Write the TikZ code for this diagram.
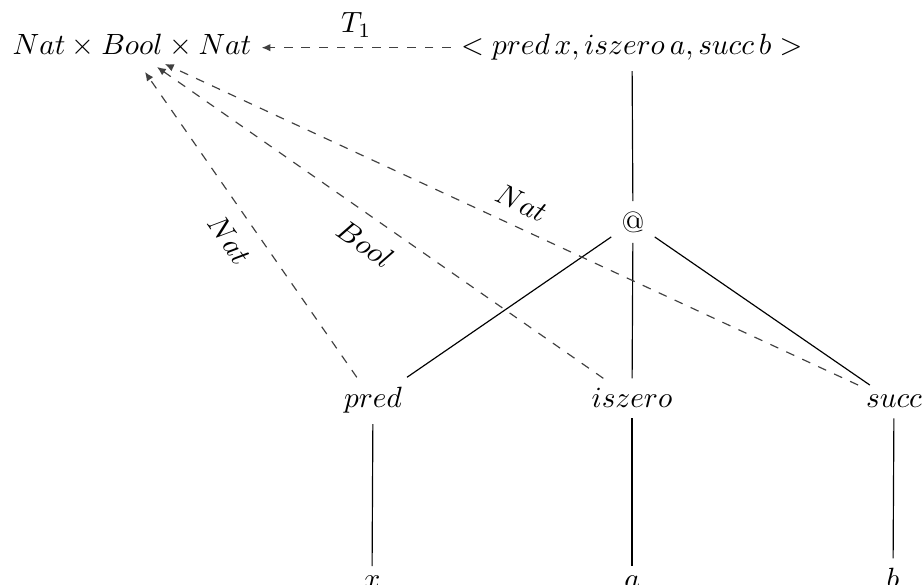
\documentclass[tikz,border=0pt]{standalone}
\usetikzlibrary{arrows.meta}
\begin{document}
\begin{tikzpicture}[x=0.3413pt,y=-0.3413pt,
  lbl/.style={anchor=base},
  edgeline/.style={draw=black, line width=0.4pt},
  typ/.style={draw=black!75, line width=0.4pt, dashed, -{Latex[length=3pt,width=2.6pt]}},
  tylabel/.style={sloped, midway, inner sep=5.3pt},
]
\useasboundingbox (0,0) rectangle (922,585);
% nodes
\node[lbl] (prod) at (132,55) {$Nat \times Bool \times Nat$};
\node[lbl] (tuple) at (632,55) {$<pred\,x, iszero\,a, succ\,b>$};
\node (app) at (633,222) {@};
\node[lbl] (pred) at (373,408) {$pred$};
\node[lbl] (iszero) at (632,408) {$iszero$};
\node[lbl] (succ) at (894,408) {$succ$};
\node[lbl] (x) at (372,589) {$x$};
\node[lbl] (a) at (632,589) {$a$};
\node[lbl] (b) at (893,589) {$b$};
\coordinate (t1) at (145,72);
\coordinate (t2) at (157,67);
\coordinate (t3) at (165,64);
% tree edges
\draw[edgeline] (tuple) -- (app);
\draw[edgeline] (app) -- (pred);
\draw[edgeline] (app) -- (iszero);
\draw[edgeline] (app) -- (succ);
\draw[edgeline] (pred) -- (x);
\draw[edgeline] (iszero) -- (a);
\draw[edgeline] (succ) -- (b);
% typing arrows
\draw[typ] (tuple.west) -- node[above] {$T_1$} (prod.east |- tuple.west);
\draw[typ] (pred) -- node[tylabel, below] {$Nat$} (t1);
\draw[typ] (iszero) -- node[tylabel, below] {$Bool$} (t2);
\draw[typ] (succ) -- node[tylabel, above, inner sep=4.5pt] {$Nat$} (t3);
\end{tikzpicture}
\end{document}
